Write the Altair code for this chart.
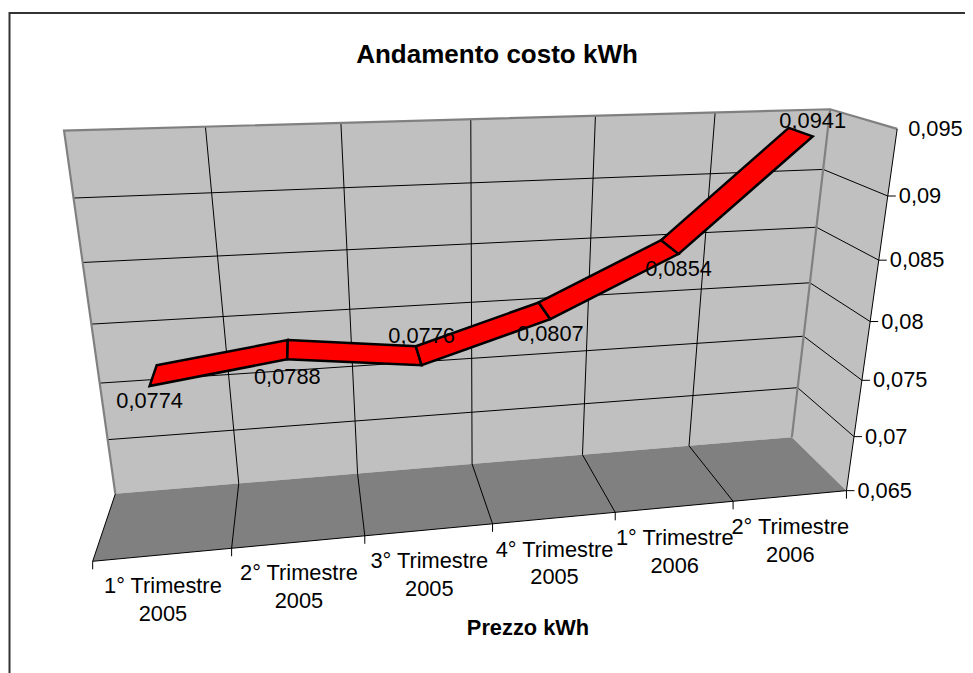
import numpy as np
import pandas as pd
import altair as alt

# ---- chart content
categories = [["1° Trimestre", "2005"], ["2° Trimestre", "2005"], ["3° Trimestre", "2005"],
              ["4° Trimestre", "2005"], ["1° Trimestre", "2006"], ["2° Trimestre", "2006"]]
values = [0.0774, 0.0788, 0.0776, 0.0807, 0.0854, 0.0941]
value_labels = ["0,0774", "0,0788", "0,0776", "0,0807", "0,0854", "0,0941"]
axis_values = [0.065, 0.07, 0.075, 0.08, 0.085, 0.09, 0.095]
axis_labels = ["0,065", "0,07", "0,075", "0,08", "0,085", "0,09", "0,095"]
title_text = "Andamento costo kWh"
axis_title = "Prezzo kWh"

# ---- data label offsets from the front edge of the ribbon (px)
label_dy = [15, 18, -29, 15, 15, -15]

# ---- perspective camera, fitted on the box's reference marks
V0, V1 = 0.065, 0.095
marks = [
    # X (category), Y (0..1 of value axis), Z (0 back, 1 front), px, py
    (0, 1, 0, 63, 130), (1, 1, 0, 205, 127), (2, 1, 0, 341, 123), (3, 1, 0, 471, 119),
    (4, 1, 0, 596, 116), (5, 1, 0, 715, 113), (6, 1, 0, 830, 109),
    (0, 0, 0, 115, 493), (1, 0, 0, 238, 484), (2, 0, 0, 357, 474), (3, 0, 0, 472, 464),
    (4, 0, 0, 583, 454), (5, 0, 0, 689, 446), (6, 0, 0, 792, 437),
    (0, 0, 1, 92.7, 561), (1, 0, 1, 231.5, 548), (2, 0, 1, 365, 536), (3, 0, 1, 493, 524),
    (4, 0, 1, 615, 513), (5, 0, 1, 733, 502), (6, 0, 1, 847, 491),
    (6, 1, 1, 897, 129), (6, 5/6, 1, 888, 196), (6, 4/6, 1, 879, 260), (6, 3/6, 1, 870, 321),
    (6, 2/6, 1, 862, 380), (6, 1/6, 1, 853, 436),
    (0, 5/6, 0, 74, 198), (0, 4/6, 0, 83, 263), (0, 3/6, 0, 92, 324),
    (0, 2/6, 0, 100, 383), (0, 1/6, 0, 108, 440),
]
w = np.ones(len(marks))
for _ in range(5):
    A = []
    b = []
    for wi, (X, Y, Z, px, py) in zip(w, marks):
        A.append([wi * c for c in [X, Y, Z, 1, 0, 0, 0, 0, -px * X, -px * Y, -px * Z]]); b.append(wi * px)
        A.append([wi * c for c in [0, 0, 0, 0, X, Y, Z, 1, -py * X, -py * Y, -py * Z]]); b.append(wi * py)
    m = np.linalg.lstsq(np.array(A, float), np.array(b, float), rcond=None)[0]
    M = np.append(m, 1.0).reshape(3, 4)
    w = np.array([1.0 / (M[2] @ np.array([X, Y, Z, 1.0])) for X, Y, Z, _, _ in marks])


def project(cat, val, depth):
    Y = (val - V0) / (V1 - V0)
    p = M @ np.array([cat, Y, depth, 1.0])
    return p[0] / p[2], p[1] / p[2]


W, H = 957, 665
xs = alt.X("x:Q", scale=alt.Scale(domain=[8, 8 + W], nice=False, zero=False), axis=None)
ys = alt.Y("y:Q", scale=alt.Scale(domain=[8 + H, 8], nice=False, zero=False), axis=None)


def poly(points, fill, stroke=None, width=0):
    df = pd.DataFrame([{"x": x, "y": y, "o": i} for i, (x, y) in enumerate(points)])
    kw = dict(interpolate="linear-closed", fill=fill, clip=True)
    if stroke:
        kw.update(stroke=stroke, strokeWidth=width, strokeJoin="miter")
    else:
        kw.update(strokeOpacity=0)
    return alt.Chart(df).mark_line(**kw).encode(x=xs, y=ys, order="o:Q")


def lines(segments, color, width):
    rows = []
    for k, seg in enumerate(segments):
        for i, (x, y) in enumerate(seg):
            rows.append({"x": x, "y": y, "o": i, "k": k})
    return alt.Chart(pd.DataFrame(rows)).mark_line(stroke=color, strokeWidth=width, clip=True).encode(
        x=xs, y=ys, order="o:Q", detail="k:N")


def text(rows, size=21.8, bold=False, align="center"):
    return alt.Chart(pd.DataFrame(rows)).mark_text(
        font="Liberation Sans", fontSize=size, fontWeight="bold" if bold else "normal",
        align=align, baseline="middle", color="black").encode(x=xs, y=ys, text="t:N")


n = len(categories)
layers = []
# walls and floor
layers.append(poly([project(0, V1, 0), project(n, V1, 0), project(n, V0, 0), project(0, V0, 0)], "#c0c0c0"))
layers.append(poly([project(n, V1, 0), project(n, V1, 1), project(n, V0, 1), project(n, V0, 0)], "#c0c0c0"))
layers.append(poly([project(0, V0, 0), project(n, V0, 0), project(n, V0, 1), project(0, V0, 1)], "#808080"))

# grid lines
grid = []
for v in axis_values[1:-1]:
    grid.append([project(0, v, 0), project(n, v, 0), project(n, v, 1)])
for c in range(1, n):
    grid.append([project(c, V1, 0), project(c, V0, 0), project(c, V0, 1)])
layers.append(lines(grid, "black", 1))

# wall edges
layers.append(lines([
    [project(0, V0, 0), project(0, V1, 0), project(n, V1, 0), project(n, V1, 1)],
    [project(n, V1, 0), project(n, V0, 0)],
], "#808080", 2.2))

# axis lines and ticks
axes = [
    [project(n, V1, 1), project(n, V0, 1), project(0, V0, 1), project(0, V0, 0)],
]
for c in range(n + 1):
    x0, y0 = project(c, V0, 1)
    axes.append([(x0, y0), (x0, y0 + 8)])
for v in axis_values[:-1]:
    x0, y0 = project(n, v, 1)
    axes.append([(x0, y0), (x0 + 8, y0)])
layers.append(lines(axes, "black", 1))

# ribbon
DEPTH_BACK, DEPTH_FRONT = 0.3, 0.7
for i in range(n - 1):
    layers.append(poly([
        project(i + 0.5, values[i], DEPTH_BACK), project(i + 1.5, values[i + 1], DEPTH_BACK),
        project(i + 1.5, values[i + 1], DEPTH_FRONT), project(i + 0.5, values[i], DEPTH_FRONT),
    ], "#ff0000", "black", 2.5))

# data labels
rows = []
for i, lab in enumerate(value_labels):
    x0, y0 = project(i + 0.5, values[i], DEPTH_FRONT)
    rows.append({"x": x0, "y": y0 + label_dy[i], "t": lab})
layers.append(text(rows))

# category labels
rows = []
for i, (l1, l2) in enumerate(categories):
    x0, y0 = project(i + 0.5, V0, 1)
    rows.append({"x": x0, "y": y0 + 31.5, "t": l1})
    rows.append({"x": x0, "y": y0 + 59, "t": l2})
layers.append(text(rows))

# value axis labels
rows = []
for v, lab in zip(axis_values, axis_labels):
    x0, y0 = project(n, v, 1)
    rows.append({"x": x0 + 11, "y": y0, "t": lab})
layers.append(text(rows, align="left"))

# titles
layers.append(text([{"x": 497, "y": 55, "t": title_text}], size=26, bold=True))
layers.append(text([{"x": 528, "y": 628, "t": axis_title}], size=21.8, bold=True))

# chart frame
layers.append(lines([[(9.5, 8 + H), (9.5, 13), (8 + W, 13)]], "#333333", 2))

chart = alt.layer(*layers).properties(
    width=W, height=H, padding=0, autosize=alt.AutoSizeParams(type="none"), background="white"
).configure_view(stroke=None)

chart.save("out.html", embed_options={"renderer": "svg", "actions": False})
